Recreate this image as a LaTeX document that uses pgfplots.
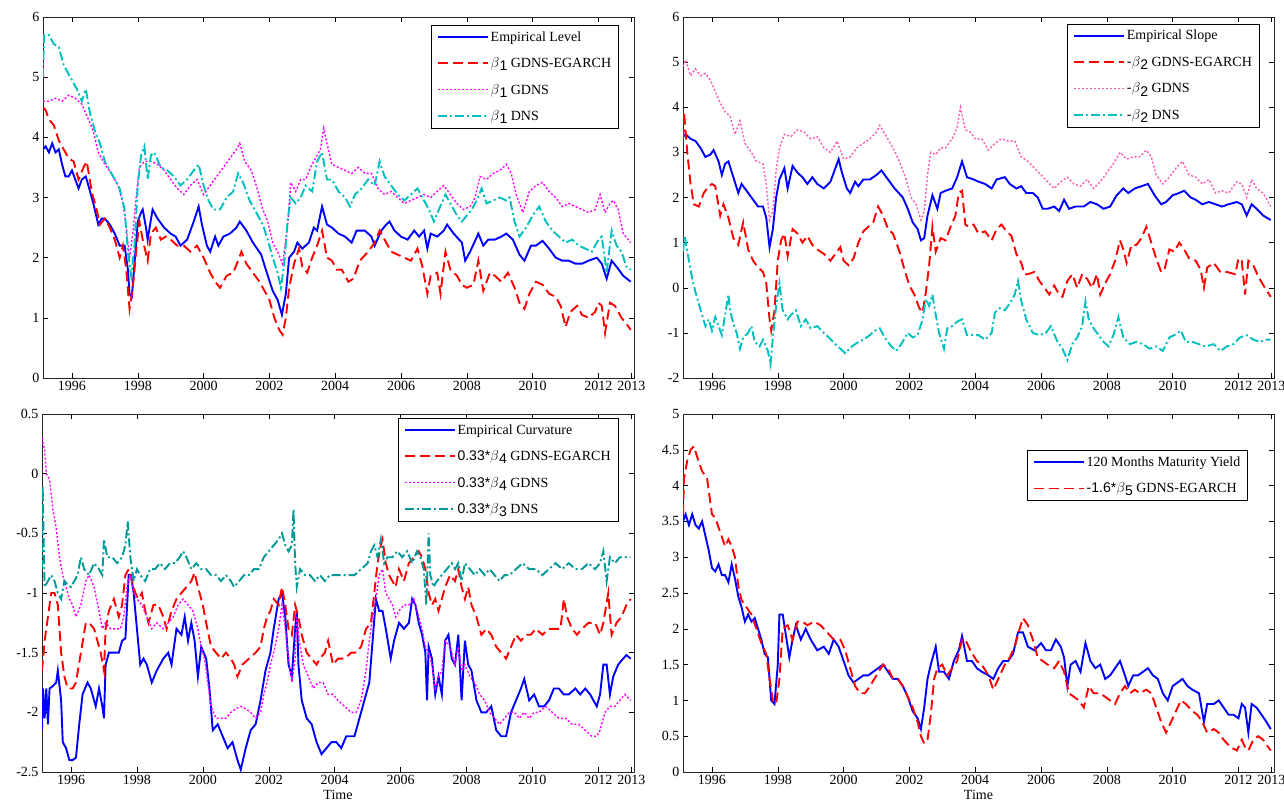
\documentclass[border=0pt]{standalone}
\usepackage{fontspec}
\setmainfont{Liberation Serif}
\newfontfamily\sansf{Liberation Sans}
\usepackage{pgfplots}
\pgfplotsset{compat=1.18}
\definecolor{mblue}{rgb}{0,0,1}
\definecolor{mred}{rgb}{1,0,0}
\definecolor{mmag}{rgb}{1,0,1}
\definecolor{mpink}{rgb}{1,0.35,0.7}
\definecolor{mcyan}{rgb}{0,0.75,0.75}
\definecolor{mteal}{rgb}{0,0.6,0.6}
\newcommand{\bsub}[1]{$\beta$\raisebox{-0.5ex}{\sansf #1}}
\pgfplotsset{
  myaxis/.style={
    scale only axis,
    xmin=1995.12, xmax=2013.08,
    xtick={1996,1998,2000,2002,2004,2006,2008,2010,2012,2013},
    xticklabels={1996,1998,2000,2002,2004,2006,2008,2010,2012,2013},
    axis line style={line width=0.6pt, black!85},
    major tick length=5pt,
    tick style={line width=0.5pt, black},
    tick label style={font=\fontsize{14}{14}\selectfont},
    /pgf/number format/assume math mode=true,
    legend cell align=left,
    legend style={draw=black, line width=0.7pt, font=\fontsize{14}{15}\selectfont,
      row sep=15pt, inner xsep=6pt, inner ysep=6pt, anchor=north west,
      nodes={inner xsep=1.5pt, inner ysep=0pt}},
    legend image code/.code={\draw[##1] (0pt,0pt) -- (50pt,0pt);},
  },
  sblue/.style={mblue, line width=1.9pt},
  sred/.style={mred, line width=1.9pt, dash pattern=on 10pt off 5pt},
  smag/.style={mmag, line width=1.4pt, dash pattern=on 2pt off 2pt},
  spink/.style={mpink, line width=1.4pt, dash pattern=on 2pt off 2pt},
  scyan/.style={mcyan, line width=1.9pt, dash pattern=on 9pt off 3pt on 2pt off 3pt},
  steal/.style={mteal, line width=1.9pt, dash pattern=on 9pt off 3pt on 2pt off 3pt},
}
\begin{document}
\begin{tikzpicture}
\path[use as bounding box] (0pt,0pt) rectangle (1284pt,-805pt);

% ---------------- Panel 1 ----------------
\begin{axis}[myaxis, at={(43pt,-378pt)}, anchor=south west, width=591pt, height=361pt,
  ymin=0, ymax=6, ytick={0,1,2,3,4,5,6}, yticklabels={0,1,2,3,4,5,6},
  legend style={at={(0.6565,0.978)}}]
\addplot[sblue] coordinates {(1995.12,3.8)(1995.2,3.85)(1995.3,3.75)(1995.4,3.9)(1995.5,3.75)(1995.6,3.8)(1995.7,3.55)(1995.8,3.35)(1995.9,3.35)(1996.0,3.45)(1996.1,3.3)(1996.2,3.15)(1996.3,3.3)(1996.42,3.35)(1996.55,3.1)(1996.65,2.9)(1996.8,2.55)(1996.9,2.65)(1997.0,2.65)(1997.15,2.55)(1997.3,2.4)(1997.45,2.2)(1997.6,2.2)(1997.7,1.8)(1997.75,1.4)(1997.82,1.35)(1997.9,1.9)(1998.0,2.6)(1998.1,2.75)(1998.15,2.8)(1998.25,2.5)(1998.3,2.3)(1998.45,2.8)(1998.6,2.65)(1998.8,2.5)(1999.0,2.4)(1999.15,2.35)(1999.3,2.2)(1999.5,2.3)(1999.7,2.6)(1999.85,2.85)(1999.95,2.55)(2000.1,2.2)(2000.2,2.1)(2000.35,2.35)(2000.45,2.2)(2000.6,2.35)(2000.8,2.4)(2001.0,2.5)(2001.1,2.6)(2001.3,2.45)(2001.5,2.25)(2001.75,2.05)(2001.95,1.7)(2002.1,1.45)(2002.25,1.3)(2002.38,1.05)(2002.5,1.4)(2002.6,2.0)(2002.75,2.1)(2002.85,2.25)(2003.0,2.15)(2003.2,2.25)(2003.35,2.5)(2003.45,2.45)(2003.6,2.85)(2003.75,2.55)(2003.9,2.5)(2004.1,2.4)(2004.3,2.35)(2004.5,2.25)(2004.65,2.45)(2004.9,2.45)(2005.1,2.35)(2005.2,2.2)(2005.4,2.45)(2005.55,2.55)(2005.65,2.6)(2005.8,2.45)(2006.0,2.35)(2006.2,2.3)(2006.4,2.45)(2006.55,2.35)(2006.7,2.45)(2006.8,2.15)(2006.9,2.4)(2007.1,2.35)(2007.3,2.45)(2007.4,2.55)(2007.6,2.4)(2007.85,2.25)(2007.95,1.95)(2008.1,2.1)(2008.35,2.4)(2008.5,2.2)(2008.65,2.3)(2008.85,2.3)(2009.05,2.35)(2009.2,2.4)(2009.4,2.3)(2009.6,2.05)(2009.75,1.95)(2009.95,2.2)(2010.1,2.2)(2010.3,2.28)(2010.5,2.15)(2010.7,2.0)(2010.9,1.95)(2011.1,1.95)(2011.3,1.9)(2011.5,1.9)(2011.7,1.95)(2011.95,2.0)(2012.1,1.9)(2012.25,1.65)(2012.4,1.95)(2012.55,1.85)(2012.75,1.7)(2012.98,1.6)};
\addlegendentry{Empirical Level}
\addplot[sred] coordinates {(1995.12,4.5)(1995.2,4.45)(1995.3,4.3)(1995.45,4.2)(1995.6,3.95)(1995.75,3.8)(1995.9,3.65)(1996.05,3.6)(1996.2,3.3)(1996.35,3.5)(1996.45,3.6)(1996.6,3.1)(1996.75,2.8)(1996.85,2.55)(1997.0,2.65)(1997.15,2.5)(1997.3,2.3)(1997.45,2.0)(1997.55,2.2)(1997.65,1.8)(1997.75,1.15)(1997.85,1.5)(1997.95,2.1)(1998.05,2.6)(1998.15,2.3)(1998.3,1.95)(1998.4,2.4)(1998.55,2.5)(1998.7,2.3)(1998.85,2.35)(1999.0,2.3)(1999.2,2.2)(1999.4,2.2)(1999.6,2.1)(1999.8,2.2)(2000.0,2.0)(2000.2,1.75)(2000.35,1.6)(2000.5,1.5)(2000.7,1.7)(2000.9,1.75)(2001.05,1.95)(2001.15,2.1)(2001.3,1.9)(2001.5,1.75)(2001.7,1.6)(2001.85,1.45)(2002.0,1.3)(2002.15,1.0)(2002.3,0.8)(2002.4,0.72)(2002.5,1.0)(2002.6,1.5)(2002.75,1.9)(2002.9,2.15)(2003.0,1.85)(2003.15,1.75)(2003.3,2.0)(2003.45,2.2)(2003.6,2.45)(2003.75,2.0)(2003.9,1.95)(2004.05,1.8)(2004.2,1.8)(2004.4,1.6)(2004.55,1.65)(2004.75,1.95)(2005.0,2.1)(2005.2,2.25)(2005.35,2.45)(2005.5,2.3)(2005.7,2.1)(2005.9,2.05)(2006.1,2.0)(2006.3,1.95)(2006.5,2.15)(2006.65,1.85)(2006.8,1.4)(2006.9,1.7)(2007.1,1.75)(2007.2,1.4)(2007.35,2.1)(2007.5,1.8)(2007.7,1.7)(2007.85,1.55)(2008.0,1.5)(2008.2,1.55)(2008.35,1.95)(2008.5,1.45)(2008.7,1.75)(2008.85,1.7)(2009.05,1.6)(2009.25,1.75)(2009.45,1.5)(2009.6,1.25)(2009.75,1.15)(2009.9,1.4)(2010.1,1.6)(2010.3,1.55)(2010.5,1.4)(2010.7,1.35)(2010.85,1.2)(2011.0,0.85)(2011.15,1.1)(2011.35,1.2)(2011.5,1.05)(2011.7,1.0)(2011.9,1.1)(2012.0,1.25)(2012.1,1.2)(2012.2,0.75)(2012.35,1.25)(2012.5,1.2)(2012.7,1.0)(2012.85,0.9)(2012.98,0.8)};
\addlegendentry{\bsub{1} GDNS-EGARCH}
\addplot[smag] coordinates {(1995.12,4.6)(1995.3,4.6)(1995.5,4.65)(1995.7,4.6)(1995.9,4.7)(1996.1,4.65)(1996.3,4.55)(1996.5,4.3)(1996.65,4.1)(1996.8,3.75)(1997.0,3.55)(1997.2,3.4)(1997.4,3.2)(1997.55,2.9)(1997.65,2.5)(1997.75,2.0)(1997.85,2.4)(1997.95,3.0)(1998.05,3.5)(1998.2,3.6)(1998.4,3.6)(1998.6,3.55)(1998.8,3.45)(1999.0,3.3)(1999.2,3.15)(1999.4,3.05)(1999.6,3.2)(1999.8,3.3)(2000.0,3.05)(2000.2,3.2)(2000.4,3.35)(2000.6,3.5)(2000.8,3.65)(2001.0,3.8)(2001.1,3.9)(2001.25,3.6)(2001.45,3.45)(2001.6,3.2)(2001.8,2.8)(2001.95,2.6)(2002.1,2.25)(2002.25,2.1)(2002.4,1.9)(2002.55,2.5)(2002.65,3.25)(2002.8,3.1)(2002.95,3.3)(2003.1,3.3)(2003.25,3.5)(2003.4,3.65)(2003.55,3.8)(2003.65,4.15)(2003.75,3.9)(2003.9,3.55)(2004.1,3.5)(2004.3,3.45)(2004.5,3.4)(2004.7,3.5)(2004.9,3.4)(2005.1,3.4)(2005.3,3.15)(2005.5,3.05)(2005.7,3.1)(2005.9,3.0)(2006.1,2.9)(2006.3,2.95)(2006.5,3.0)(2006.7,3.05)(2006.9,3.0)(2007.1,3.1)(2007.3,3.2)(2007.5,3.05)(2007.7,2.9)(2007.9,2.8)(2008.1,2.85)(2008.25,3.0)(2008.4,3.35)(2008.6,3.3)(2008.8,3.4)(2009.0,3.45)(2009.2,3.55)(2009.35,3.4)(2009.5,3.05)(2009.7,2.75)(2009.9,3.1)(2010.1,3.2)(2010.3,3.25)(2010.5,3.1)(2010.7,3.0)(2010.9,2.85)(2011.1,2.9)(2011.3,2.85)(2011.5,2.8)(2011.7,2.75)(2011.9,2.8)(2012.05,3.05)(2012.2,2.75)(2012.35,2.9)(2012.45,2.95)(2012.6,2.8)(2012.75,2.4)(2012.98,2.25)};
\addlegendentry{\bsub{1} GDNS}
\addplot[scyan] coordinates {(1995.12,5.0)(1995.15,5.7)(1995.3,5.7)(1995.45,5.55)(1995.6,5.5)(1995.75,5.2)(1995.9,5.05)(1996.0,4.95)(1996.15,4.8)(1996.3,4.6)(1996.42,4.8)(1996.55,4.4)(1996.7,4.1)(1996.85,3.9)(1997.0,3.6)(1997.15,3.45)(1997.3,3.3)(1997.45,3.15)(1997.6,2.8)(1997.7,2.1)(1997.8,1.7)(1997.9,2.2)(1998.0,3.2)(1998.1,3.7)(1998.2,3.85)(1998.3,3.3)(1998.4,3.7)(1998.5,3.75)(1998.7,3.5)(1998.9,3.45)(1999.1,3.35)(1999.3,3.2)(1999.5,3.3)(1999.7,3.45)(1999.85,3.55)(2000.0,3.2)(2000.15,2.95)(2000.3,2.8)(2000.5,2.8)(2000.7,3.0)(2000.9,3.1)(2001.05,3.4)(2001.2,3.25)(2001.4,2.95)(2001.6,2.75)(2001.8,2.55)(2001.95,2.3)(2002.1,2.0)(2002.25,1.75)(2002.35,1.5)(2002.45,1.9)(2002.55,2.6)(2002.65,3.0)(2002.8,2.9)(2002.95,3.0)(2003.1,3.2)(2003.3,3.1)(2003.45,3.6)(2003.6,3.75)(2003.75,3.3)(2003.9,3.3)(2004.1,3.1)(2004.3,3.0)(2004.45,2.85)(2004.6,3.05)(2004.8,3.15)(2005.0,3.3)(2005.2,3.2)(2005.35,3.6)(2005.5,3.35)(2005.7,3.2)(2005.9,3.05)(2006.1,2.95)(2006.3,3.05)(2006.5,3.15)(2006.7,2.95)(2006.85,2.8)(2007.0,2.6)(2007.15,2.8)(2007.35,3.05)(2007.5,2.9)(2007.7,2.7)(2007.85,2.6)(2008.0,2.7)(2008.15,2.8)(2008.3,2.95)(2008.45,3.15)(2008.6,2.9)(2008.8,2.95)(2009.0,3.0)(2009.2,2.95)(2009.3,3.0)(2009.45,2.6)(2009.6,2.35)(2009.8,2.5)(2010.0,2.7)(2010.2,2.85)(2010.4,2.6)(2010.6,2.45)(2010.8,2.35)(2011.0,2.25)(2011.2,2.3)(2011.4,2.2)(2011.6,2.15)(2011.8,2.1)(2012.0,2.3)(2012.1,2.35)(2012.25,1.75)(2012.4,2.45)(2012.55,2.2)(2012.7,2.1)(2012.85,1.85)(2012.98,1.8)};
\addlegendentry{\bsub{1} DNS}
\end{axis}

% ---------------- Panel 2 ----------------
\begin{axis}[myaxis, at={(683pt,-378pt)}, anchor=south west, width=591pt, height=361pt,
  ymin=-2, ymax=6, ytick={-2,-1,0,1,2,3,4,5,6}, yticklabels={-2,-1,0,1,2,3,4,5,6},
  legend style={at={(0.650,0.981)}}]
\addplot[sblue] coordinates {(1995.12,3.35)(1995.2,3.4)(1995.35,3.3)(1995.5,3.25)(1995.65,3.1)(1995.8,2.9)(1995.95,2.95)(1996.05,3.05)(1996.2,2.8)(1996.3,2.5)(1996.4,2.75)(1996.5,2.8)(1996.65,2.45)(1996.8,2.1)(1996.9,2.3)(1997.05,2.15)(1997.25,1.95)(1997.4,1.8)(1997.55,1.8)(1997.65,1.55)(1997.75,0.9)(1997.85,1.3)(1997.95,2.0)(1998.05,2.4)(1998.2,2.65)(1998.3,2.2)(1998.45,2.7)(1998.6,2.55)(1998.75,2.45)(1998.9,2.3)(1999.05,2.45)(1999.2,2.3)(1999.4,2.2)(1999.6,2.35)(1999.75,2.65)(1999.85,2.85)(1999.95,2.55)(2000.1,2.2)(2000.2,2.1)(2000.35,2.35)(2000.45,2.25)(2000.6,2.4)(2000.8,2.4)(2001.0,2.5)(2001.15,2.6)(2001.35,2.4)(2001.55,2.2)(2001.8,2.0)(2001.95,1.75)(2002.1,1.45)(2002.25,1.3)(2002.35,1.05)(2002.45,1.1)(2002.55,1.6)(2002.7,2.05)(2002.85,1.75)(2002.95,2.1)(2003.1,2.15)(2003.3,2.2)(2003.45,2.45)(2003.6,2.8)(2003.75,2.45)(2003.95,2.4)(2004.1,2.35)(2004.3,2.3)(2004.5,2.2)(2004.65,2.4)(2004.9,2.45)(2005.05,2.3)(2005.25,2.2)(2005.4,2.25)(2005.55,2.1)(2005.75,2.1)(2005.9,2.0)(2006.05,1.75)(2006.2,1.75)(2006.4,1.8)(2006.55,1.7)(2006.7,1.95)(2006.85,1.75)(2007.05,1.8)(2007.3,1.8)(2007.5,1.9)(2007.7,1.85)(2007.9,1.75)(2008.1,1.8)(2008.3,2.05)(2008.5,2.2)(2008.65,2.1)(2008.85,2.2)(2009.05,2.25)(2009.25,2.3)(2009.45,2.05)(2009.65,1.85)(2009.8,1.9)(2010.0,2.05)(2010.2,2.1)(2010.35,2.15)(2010.55,2.0)(2010.7,1.95)(2010.9,1.85)(2011.1,1.9)(2011.3,1.85)(2011.5,1.8)(2011.7,1.85)(2011.95,1.9)(2012.1,1.85)(2012.25,1.6)(2012.4,1.85)(2012.55,1.75)(2012.75,1.6)(2012.98,1.5)};
\addlegendentry{Empirical Slope}
\addplot[sred] coordinates {(1995.12,3.3)(1995.15,3.9)(1995.25,3.0)(1995.35,2.3)(1995.45,1.85)(1995.6,1.8)(1995.75,2.1)(1995.9,2.25)(1996.0,2.3)(1996.1,2.25)(1996.25,1.6)(1996.35,1.85)(1996.5,1.55)(1996.65,1.1)(1996.8,0.95)(1996.95,1.45)(1997.1,0.85)(1997.25,0.6)(1997.4,0.45)(1997.55,0.35)(1997.65,0.1)(1997.75,-0.7)(1997.8,-0.95)(1997.9,-0.5)(1998.0,0.6)(1998.1,1.05)(1998.2,1.2)(1998.3,0.7)(1998.45,1.3)(1998.6,1.2)(1998.75,1.0)(1998.9,1.15)(1999.05,0.95)(1999.2,0.85)(1999.4,0.75)(1999.6,0.6)(1999.8,0.8)(1999.9,0.9)(2000.0,0.6)(2000.15,0.5)(2000.3,0.65)(2000.45,1.0)(2000.6,1.25)(2000.75,1.35)(2000.9,1.45)(2001.05,1.8)(2001.2,1.6)(2001.35,1.3)(2001.5,1.2)(2001.7,0.8)(2001.85,0.4)(2002.0,0.05)(2002.15,-0.15)(2002.3,-0.45)(2002.4,-0.55)(2002.5,-0.1)(2002.6,0.5)(2002.7,1.35)(2002.8,0.8)(2002.95,1.1)(2003.1,1.05)(2003.25,1.35)(2003.4,1.6)(2003.5,2.1)(2003.6,2.15)(2003.7,1.4)(2003.8,1.35)(2003.95,1.4)(2004.1,1.2)(2004.3,1.25)(2004.5,1.05)(2004.65,1.3)(2004.8,1.4)(2004.95,1.25)(2005.1,1.15)(2005.25,0.75)(2005.4,0.55)(2005.5,0.3)(2005.6,0.3)(2005.8,0.35)(2005.95,0.15)(2006.1,0.0)(2006.25,-0.15)(2006.4,0.05)(2006.55,-0.15)(2006.65,-0.2)(2006.8,0.15)(2006.95,0.3)(2007.1,0.0)(2007.25,0.3)(2007.4,0.2)(2007.55,0.0)(2007.7,0.3)(2007.8,-0.15)(2007.95,0.1)(2008.1,0.3)(2008.25,0.6)(2008.4,1.05)(2008.5,0.85)(2008.6,0.55)(2008.75,0.95)(2008.9,0.95)(2009.05,1.1)(2009.2,1.35)(2009.35,1.0)(2009.5,0.65)(2009.65,0.35)(2009.75,0.4)(2009.9,0.85)(2010.05,0.8)(2010.2,1.0)(2010.35,0.85)(2010.5,0.65)(2010.7,0.6)(2010.85,0.4)(2010.95,0.0)(2011.05,0.45)(2011.25,0.55)(2011.45,0.35)(2011.65,0.35)(2011.9,0.3)(2012.0,0.65)(2012.1,0.6)(2012.2,-0.15)(2012.3,0.6)(2012.45,0.5)(2012.6,0.25)(2012.8,0.0)(2012.98,-0.2)};
\addlegendentry{{\sansf -}\bsub{2} GDNS-EGARCH}
\addplot[spink] coordinates {(1995.12,4.9)(1995.2,5.05)(1995.35,4.7)(1995.5,4.85)(1995.65,4.7)(1995.8,4.75)(1995.95,4.6)(1996.1,4.35)(1996.25,4.1)(1996.4,3.9)(1996.55,3.8)(1996.7,3.4)(1996.85,3.7)(1997.0,3.2)(1997.2,3.0)(1997.35,2.8)(1997.55,2.75)(1997.65,2.3)(1997.75,1.5)(1997.85,1.7)(1997.95,2.6)(1998.05,3.1)(1998.2,3.4)(1998.4,3.35)(1998.6,3.5)(1998.8,3.45)(1999.0,3.3)(1999.2,3.35)(1999.4,3.1)(1999.6,3.0)(1999.8,3.25)(2000.0,2.85)(2000.2,2.9)(2000.4,3.1)(2000.6,3.2)(2000.8,3.3)(2001.0,3.45)(2001.1,3.6)(2001.3,3.35)(2001.5,3.1)(2001.7,2.8)(2001.9,2.4)(2002.05,2.0)(2002.2,1.85)(2002.35,1.5)(2002.45,1.7)(2002.55,2.5)(2002.65,3.0)(2002.8,2.95)(2002.95,3.1)(2003.1,3.1)(2003.3,3.3)(2003.45,3.55)(2003.55,4.0)(2003.7,3.5)(2003.85,3.45)(2004.0,3.3)(2004.2,3.3)(2004.4,3.05)(2004.6,3.2)(2004.8,3.3)(2005.0,3.25)(2005.2,3.25)(2005.4,2.9)(2005.6,2.8)(2005.8,2.65)(2006.0,2.5)(2006.2,2.35)(2006.4,2.2)(2006.6,2.35)(2006.8,2.45)(2007.0,2.3)(2007.2,2.25)(2007.4,2.4)(2007.6,2.2)(2007.8,2.35)(2008.0,2.55)(2008.2,2.75)(2008.4,3.0)(2008.6,2.85)(2008.8,2.9)(2009.0,2.9)(2009.2,3.05)(2009.35,2.9)(2009.5,2.5)(2009.7,2.3)(2009.9,2.45)(2010.1,2.65)(2010.3,2.8)(2010.5,2.5)(2010.7,2.45)(2010.9,2.3)(2011.1,2.4)(2011.3,2.1)(2011.5,2.15)(2011.7,2.1)(2011.95,2.35)(2012.1,2.3)(2012.25,2.0)(2012.4,2.4)(2012.55,2.2)(2012.75,2.1)(2012.98,1.8)};
\addlegendentry{{\sansf -}\bsub{2} GDNS}
\addplot[scyan] coordinates {(1995.12,0.8)(1995.17,1.15)(1995.3,0.6)(1995.4,0.2)(1995.5,-0.1)(1995.6,-0.35)(1995.7,-0.6)(1995.8,-0.85)(1995.9,-0.7)(1996.0,-0.95)(1996.1,-0.65)(1996.2,-0.85)(1996.3,-1.05)(1996.4,-0.6)(1996.5,-0.15)(1996.55,-0.5)(1996.65,-0.8)(1996.75,-1.0)(1996.85,-1.35)(1996.95,-1.1)(1997.1,-1.0)(1997.2,-0.85)(1997.3,-1.2)(1997.45,-1.3)(1997.55,-1.15)(1997.7,-1.4)(1997.78,-1.7)(1997.85,-1.1)(1997.95,-0.4)(1998.05,0.1)(1998.15,-0.5)(1998.3,-0.7)(1998.4,-0.6)(1998.55,-0.5)(1998.7,-0.85)(1998.85,-0.7)(1999.0,-0.9)(1999.2,-0.85)(1999.4,-1.0)(1999.55,-1.1)(1999.75,-1.25)(1999.9,-1.35)(2000.05,-1.45)(2000.25,-1.3)(2000.45,-1.2)(2000.6,-1.15)(2000.8,-1.05)(2000.95,-0.95)(2001.1,-0.9)(2001.25,-1.1)(2001.45,-1.3)(2001.6,-1.4)(2001.75,-1.25)(2001.95,-1.0)(2002.1,-1.1)(2002.25,-1.05)(2002.4,-0.7)(2002.5,-0.25)(2002.6,-0.4)(2002.7,-0.15)(2002.8,-0.6)(2002.9,-1.0)(2003.05,-1.35)(2003.15,-0.9)(2003.3,-0.85)(2003.45,-0.75)(2003.6,-0.7)(2003.75,-1.05)(2003.9,-1.05)(2004.1,-1.05)(2004.3,-1.15)(2004.5,-1.0)(2004.6,-0.55)(2004.75,-0.45)(2004.9,-0.5)(2005.05,-0.35)(2005.2,-0.15)(2005.3,0.15)(2005.4,-0.3)(2005.55,-0.7)(2005.75,-1.0)(2005.95,-1.05)(2006.15,-1.0)(2006.3,-0.85)(2006.5,-1.2)(2006.65,-1.35)(2006.8,-1.6)(2006.95,-1.25)(2007.1,-1.1)(2007.25,-0.85)(2007.35,-0.3)(2007.45,-0.7)(2007.6,-0.9)(2007.75,-1.05)(2007.9,-1.2)(2008.05,-1.3)(2008.2,-1.05)(2008.35,-0.65)(2008.5,-1.1)(2008.7,-1.25)(2008.9,-1.2)(2009.1,-1.25)(2009.3,-1.35)(2009.5,-1.3)(2009.7,-1.4)(2009.9,-1.1)(2010.05,-1.05)(2010.25,-0.95)(2010.4,-1.2)(2010.6,-1.2)(2010.8,-1.25)(2011.0,-1.3)(2011.25,-1.25)(2011.45,-1.4)(2011.65,-1.3)(2011.85,-1.25)(2012.05,-1.1)(2012.25,-1.05)(2012.45,-1.15)(2012.65,-1.2)(2012.85,-1.15)(2012.98,-1.15)};
\addlegendentry{{\sansf -}\bsub{2} DNS}
\end{axis}

% ---------------- Panel 3 ----------------
\begin{axis}[myaxis, at={(42pt,-772pt)}, anchor=south west, width=592pt, height=358pt,
  ymin=-2.5, ymax=0.5, ytick={-2.5,-2,-1.5,-1,-0.5,0,0.5}, yticklabels={-2.5,-2,-1.5,-1,-0.5,0,0.5},
  xlabel={Time}, xlabel style={font=\fontsize{14}{14}\selectfont, yshift=2pt},
  legend style={at={(0.601,0.989)}}]
\addplot[sblue] coordinates {(1995.12,-2.15)(1995.15,-1.8)(1995.2,-2.05)(1995.25,-1.8)(1995.3,-2.1)(1995.35,-1.8)(1995.45,-1.78)(1995.55,-1.75)(1995.6,-1.65)(1995.7,-1.9)(1995.75,-2.25)(1995.85,-2.3)(1995.95,-2.4)(1996.05,-2.4)(1996.15,-2.38)(1996.25,-2.1)(1996.35,-1.85)(1996.5,-1.75)(1996.6,-1.8)(1996.75,-1.95)(1996.85,-1.8)(1996.95,-1.95)(1997.0,-2.05)(1997.05,-1.6)(1997.15,-1.5)(1997.3,-1.5)(1997.45,-1.5)(1997.55,-1.4)(1997.65,-1.38)(1997.75,-0.85)(1997.82,-0.85)(1997.9,-1.0)(1998.0,-1.3)(1998.1,-1.6)(1998.2,-1.55)(1998.3,-1.6)(1998.45,-1.75)(1998.6,-1.65)(1998.8,-1.55)(1998.95,-1.5)(1999.05,-1.6)(1999.2,-1.3)(1999.35,-1.35)(1999.45,-1.2)(1999.55,-1.4)(1999.65,-1.25)(1999.75,-1.4)(1999.85,-1.7)(1999.95,-1.45)(2000.1,-1.55)(2000.2,-1.8)(2000.3,-2.15)(2000.45,-2.1)(2000.6,-2.2)(2000.75,-2.3)(2000.9,-2.25)(2001.05,-2.4)(2001.15,-2.48)(2001.3,-2.3)(2001.45,-2.15)(2001.6,-2.1)(2001.75,-1.9)(2001.9,-1.65)(2002.05,-1.5)(2002.15,-1.3)(2002.3,-1.05)(2002.4,-1.0)(2002.5,-1.2)(2002.6,-1.6)(2002.7,-1.7)(2002.8,-1.3)(2002.85,-1.15)(2002.9,-1.6)(2003.0,-1.9)(2003.15,-2.05)(2003.3,-2.1)(2003.45,-2.25)(2003.6,-2.35)(2003.75,-2.3)(2003.9,-2.25)(2004.05,-2.25)(2004.2,-2.3)(2004.35,-2.2)(2004.5,-2.2)(2004.6,-2.2)(2004.75,-2.05)(2004.9,-1.9)(2005.05,-1.75)(2005.15,-1.4)(2005.25,-1.05)(2005.35,-1.15)(2005.45,-1.15)(2005.55,-1.3)(2005.7,-1.55)(2005.8,-1.4)(2005.95,-1.25)(2006.1,-1.3)(2006.25,-1.25)(2006.35,-1.05)(2006.45,-1.1)(2006.55,-1.25)(2006.65,-1.35)(2006.75,-1.5)(2006.8,-1.9)(2006.85,-1.45)(2006.95,-1.55)(2007.05,-1.85)(2007.15,-1.7)(2007.25,-1.85)(2007.35,-1.4)(2007.45,-1.35)(2007.55,-1.55)(2007.65,-1.6)(2007.75,-1.35)(2007.85,-1.9)(2007.95,-1.4)(2008.05,-1.6)(2008.15,-1.65)(2008.3,-1.9)(2008.45,-2.0)(2008.6,-2.0)(2008.75,-1.95)(2008.9,-2.15)(2009.05,-2.2)(2009.2,-2.2)(2009.35,-2.0)(2009.5,-1.9)(2009.65,-1.8)(2009.75,-1.72)(2009.9,-1.9)(2010.05,-1.85)(2010.2,-1.95)(2010.35,-1.95)(2010.5,-1.9)(2010.65,-1.8)(2010.8,-1.8)(2010.95,-1.85)(2011.1,-1.85)(2011.3,-1.8)(2011.45,-1.85)(2011.6,-1.8)(2011.75,-1.85)(2011.95,-1.95)(2012.05,-1.85)(2012.15,-1.6)(2012.25,-1.6)(2012.35,-1.85)(2012.45,-1.7)(2012.6,-1.6)(2012.75,-1.55)(2012.85,-1.52)(2012.98,-1.55)};
\addlegendentry{Empirical Curvature}
\addplot[sred] coordinates {(1995.12,-1.65)(1995.2,-1.4)(1995.3,-1.2)(1995.4,-1.0)(1995.5,-1.0)(1995.6,-1.1)(1995.7,-1.5)(1995.8,-1.7)(1995.9,-1.8)(1996.05,-1.8)(1996.15,-1.75)(1996.3,-1.5)(1996.45,-1.25)(1996.55,-1.25)(1996.7,-1.3)(1996.8,-1.4)(1996.9,-1.5)(1997.0,-1.65)(1997.05,-1.3)(1997.15,-1.15)(1997.3,-1.05)(1997.45,-1.2)(1997.55,-1.1)(1997.65,-0.85)(1997.75,-0.8)(1997.85,-0.9)(1997.95,-1.0)(1998.05,-1.05)(1998.15,-1.0)(1998.25,-1.15)(1998.35,-1.25)(1998.5,-1.1)(1998.65,-1.1)(1998.8,-1.2)(1998.9,-1.3)(1999.05,-1.15)(1999.2,-1.05)(1999.35,-1.0)(1999.5,-0.95)(1999.65,-0.9)(1999.75,-0.83)(1999.85,-0.95)(2000.0,-1.1)(2000.1,-1.25)(2000.25,-1.45)(2000.4,-1.5)(2000.55,-1.55)(2000.7,-1.5)(2000.85,-1.55)(2000.95,-1.6)(2001.05,-1.7)(2001.2,-1.6)(2001.4,-1.55)(2001.6,-1.5)(2001.75,-1.45)(2001.85,-1.3)(2001.95,-1.2)(2002.05,-1.15)(2002.15,-1.05)(2002.3,-1.1)(2002.4,-0.95)(2002.5,-1.1)(2002.6,-1.3)(2002.7,-1.35)(2002.8,-1.1)(2002.9,-1.2)(2003.0,-1.35)(2003.15,-1.5)(2003.3,-1.55)(2003.45,-1.6)(2003.55,-1.55)(2003.7,-1.5)(2003.8,-1.4)(2003.95,-1.6)(2004.1,-1.55)(2004.3,-1.55)(2004.5,-1.5)(2004.65,-1.5)(2004.8,-1.45)(2004.95,-1.3)(2005.1,-1.25)(2005.2,-1.0)(2005.3,-0.75)(2005.4,-0.6)(2005.45,-0.55)(2005.55,-0.75)(2005.65,-0.85)(2005.75,-0.9)(2005.85,-0.95)(2005.95,-0.8)(2006.1,-0.9)(2006.25,-0.75)(2006.4,-0.7)(2006.55,-0.65)(2006.65,-0.7)(2006.75,-0.8)(2006.85,-1.0)(2006.95,-1.1)(2007.05,-1.05)(2007.15,-1.15)(2007.25,-1.05)(2007.35,-0.95)(2007.5,-0.85)(2007.65,-0.9)(2007.75,-0.8)(2007.85,-0.95)(2007.95,-1.05)(2008.05,-0.95)(2008.15,-1.1)(2008.3,-1.2)(2008.45,-1.35)(2008.6,-1.3)(2008.75,-1.35)(2008.9,-1.45)(2009.05,-1.5)(2009.2,-1.55)(2009.35,-1.45)(2009.5,-1.35)(2009.65,-1.4)(2009.8,-1.35)(2009.95,-1.35)(2010.1,-1.3)(2010.3,-1.35)(2010.5,-1.3)(2010.7,-1.3)(2010.85,-1.3)(2010.95,-1.05)(2011.05,-1.2)(2011.2,-1.3)(2011.35,-1.35)(2011.5,-1.3)(2011.7,-1.25)(2011.9,-1.25)(2012.05,-1.35)(2012.15,-1.25)(2012.3,-1.0)(2012.4,-1.35)(2012.55,-1.25)(2012.7,-1.2)(2012.85,-1.1)(2012.98,-1.05)};
\addlegendentry{{\sansf 0.33*}\bsub{4} GDNS-EGARCH}
\addplot[smag] coordinates {(1995.12,0.3)(1995.2,0.2)(1995.25,0.0)(1995.35,-0.05)(1995.45,-0.3)(1995.55,-0.45)(1995.65,-0.7)(1995.75,-0.85)(1995.85,-0.95)(1995.95,-1.05)(1996.05,-1.1)(1996.15,-1.2)(1996.3,-1.1)(1996.45,-0.9)(1996.55,-0.85)(1996.7,-0.95)(1996.85,-1.15)(1996.95,-1.3)(1997.05,-1.25)(1997.2,-1.3)(1997.35,-1.3)(1997.5,-1.3)(1997.6,-1.2)(1997.7,-0.95)(1997.8,-0.85)(1997.9,-1.0)(1998.0,-1.05)(1998.15,-1.1)(1998.3,-1.2)(1998.45,-1.3)(1998.6,-1.25)(1998.8,-1.3)(1998.95,-1.25)(1999.1,-1.2)(1999.25,-1.1)(1999.4,-1.05)(1999.55,-1.1)(1999.7,-1.15)(1999.85,-1.3)(1999.95,-1.45)(2000.05,-1.55)(2000.15,-1.75)(2000.25,-1.95)(2000.4,-2.05)(2000.55,-2.05)(2000.7,-2.05)(2000.85,-2.0)(2001.0,-1.97)(2001.15,-1.95)(2001.3,-1.97)(2001.45,-2.0)(2001.6,-2.05)(2001.75,-2.0)(2001.85,-1.85)(2001.95,-1.75)(2002.05,-1.6)(2002.15,-1.5)(2002.3,-1.3)(2002.4,-1.1)(2002.5,-1.3)(2002.6,-1.55)(2002.7,-1.75)(2002.8,-1.55)(2002.85,-1.2)(2002.95,-1.45)(2003.05,-1.6)(2003.2,-1.7)(2003.35,-1.8)(2003.5,-1.75)(2003.65,-1.75)(2003.8,-1.85)(2003.95,-1.85)(2004.1,-1.9)(2004.3,-1.95)(2004.5,-2.0)(2004.65,-2.0)(2004.8,-1.9)(2004.95,-1.65)(2005.05,-1.4)(2005.15,-1.2)(2005.25,-1.05)(2005.35,-0.85)(2005.45,-0.8)(2005.55,-1.0)(2005.65,-1.05)(2005.75,-1.1)(2005.85,-1.2)(2005.95,-1.15)(2006.1,-1.1)(2006.25,-1.1)(2006.4,-1.05)(2006.55,-1.2)(2006.65,-1.3)(2006.75,-1.45)(2006.85,-1.5)(2006.95,-1.6)(2007.05,-1.8)(2007.15,-1.7)(2007.25,-1.65)(2007.35,-1.4)(2007.5,-1.45)(2007.65,-1.6)(2007.75,-1.45)(2007.85,-1.65)(2007.95,-1.6)(2008.1,-1.7)(2008.25,-1.75)(2008.4,-1.85)(2008.55,-1.9)(2008.7,-2.0)(2008.85,-2.05)(2009.0,-2.1)(2009.15,-2.05)(2009.3,-2.0)(2009.45,-2.0)(2009.6,-2.05)(2009.75,-2.0)(2009.9,-2.05)(2010.05,-2.0)(2010.2,-2.0)(2010.4,-1.95)(2010.6,-2.0)(2010.8,-2.05)(2011.0,-2.05)(2011.2,-2.1)(2011.4,-2.1)(2011.6,-2.15)(2011.8,-2.2)(2011.95,-2.2)(2012.05,-2.15)(2012.2,-2.0)(2012.35,-1.95)(2012.5,-1.95)(2012.65,-1.9)(2012.8,-1.85)(2012.98,-1.9)};
\addlegendentry{{\sansf 0.33*}\bsub{4} GDNS}
\addplot[steal] coordinates {(1995.12,-0.8)(1995.14,-0.1)(1995.17,-0.55)(1995.2,-0.95)(1995.3,-0.9)(1995.4,-0.85)(1995.5,-0.9)(1995.6,-1.0)(1995.7,-1.05)(1995.8,-0.9)(1995.9,-0.93)(1996.0,-0.95)(1996.1,-0.9)(1996.2,-0.85)(1996.3,-0.7)(1996.4,-0.8)(1996.55,-0.85)(1996.7,-0.75)(1996.85,-0.8)(1996.95,-0.85)(1997.0,-0.55)(1997.1,-0.7)(1997.25,-0.7)(1997.4,-0.75)(1997.55,-0.7)(1997.65,-0.6)(1997.72,-0.4)(1997.8,-0.7)(1997.9,-0.9)(1998.0,-0.8)(1998.1,-0.85)(1998.25,-0.9)(1998.4,-0.8)(1998.55,-0.8)(1998.7,-0.75)(1998.85,-0.8)(1999.0,-0.75)(1999.15,-0.75)(1999.3,-0.7)(1999.4,-0.65)(1999.5,-0.7)(1999.65,-0.8)(1999.8,-0.75)(1999.95,-0.8)(2000.1,-0.8)(2000.25,-0.85)(2000.4,-0.85)(2000.55,-0.9)(2000.7,-0.85)(2000.85,-0.9)(2000.95,-0.95)(2001.1,-0.9)(2001.25,-0.85)(2001.4,-0.85)(2001.55,-0.8)(2001.7,-0.8)(2001.85,-0.7)(2002.0,-0.65)(2002.15,-0.6)(2002.3,-0.55)(2002.4,-0.5)(2002.5,-0.6)(2002.6,-0.65)(2002.7,-0.6)(2002.75,-0.3)(2002.8,-0.75)(2002.85,-0.95)(2002.95,-0.8)(2003.1,-0.85)(2003.25,-0.85)(2003.4,-0.9)(2003.55,-0.85)(2003.7,-0.9)(2003.85,-0.85)(2004.0,-0.85)(2004.2,-0.85)(2004.4,-0.85)(2004.6,-0.85)(2004.8,-0.8)(2005.0,-0.75)(2005.1,-0.65)(2005.2,-0.6)(2005.3,-0.7)(2005.4,-0.55)(2005.5,-0.75)(2005.6,-0.7)(2005.75,-0.7)(2005.9,-0.65)(2006.05,-0.7)(2006.2,-0.65)(2006.35,-0.75)(2006.5,-0.65)(2006.6,-0.7)(2006.7,-0.8)(2006.78,-1.1)(2006.85,-0.5)(2006.9,-0.85)(2007.0,-0.95)(2007.1,-0.9)(2007.25,-0.85)(2007.4,-0.8)(2007.55,-0.75)(2007.65,-0.8)(2007.75,-0.75)(2007.85,-0.9)(2007.95,-0.75)(2008.1,-0.8)(2008.25,-0.85)(2008.4,-0.8)(2008.55,-0.85)(2008.7,-0.8)(2008.85,-0.85)(2009.0,-0.9)(2009.15,-0.85)(2009.3,-0.85)(2009.5,-0.8)(2009.7,-0.75)(2009.9,-0.8)(2010.1,-0.8)(2010.3,-0.85)(2010.5,-0.8)(2010.7,-0.75)(2010.9,-0.8)(2011.1,-0.75)(2011.3,-0.8)(2011.5,-0.8)(2011.7,-0.75)(2011.9,-0.8)(2012.05,-0.75)(2012.15,-0.65)(2012.25,-0.9)(2012.35,-0.7)(2012.5,-0.75)(2012.65,-0.7)(2012.8,-0.7)(2012.98,-0.7)};
\addlegendentry{{\sansf 0.33*}\bsub{3} DNS}
\end{axis}

% ---------------- Panel 4 ----------------
\begin{axis}[myaxis, at={(683pt,-772pt)}, anchor=south west, width=591pt, height=358pt,
  ymin=0, ymax=5, ytick={0,0.5,1,1.5,2,2.5,3,3.5,4,4.5,5}, yticklabels={0,0.5,1,1.5,2,2.5,3,3.5,4,4.5,5},
  xlabel={Time}, xlabel style={font=\fontsize{14}{14}\selectfont, yshift=2pt},
  legend style={at={(0.582,0.899)}}]
\addplot[sblue] coordinates {(1995.12,3.5)(1995.2,3.6)(1995.3,3.45)(1995.4,3.6)(1995.5,3.45)(1995.6,3.4)(1995.7,3.5)(1995.8,3.3)(1995.9,3.1)(1996.0,2.85)(1996.1,2.8)(1996.2,2.9)(1996.3,2.75)(1996.4,2.75)(1996.5,2.65)(1996.6,2.9)(1996.7,2.7)(1996.8,2.45)(1996.9,2.3)(1997.0,2.1)(1997.1,2.2)(1997.2,2.1)(1997.3,2.15)(1997.4,2.0)(1997.5,1.85)(1997.6,1.65)(1997.7,1.6)(1997.8,1.0)(1997.9,0.95)(1998.0,1.5)(1998.05,2.2)(1998.15,2.2)(1998.25,1.9)(1998.35,1.6)(1998.45,1.85)(1998.55,2.05)(1998.7,1.85)(1998.85,2.0)(1999.0,1.85)(1999.2,1.7)(1999.4,1.75)(1999.55,1.65)(1999.7,1.85)(1999.85,1.75)(2000.0,1.55)(2000.15,1.35)(2000.3,1.25)(2000.45,1.3)(2000.6,1.35)(2000.75,1.35)(2000.9,1.4)(2001.05,1.45)(2001.2,1.5)(2001.35,1.4)(2001.5,1.3)(2001.65,1.3)(2001.8,1.2)(2001.95,1.05)(2002.1,0.85)(2002.25,0.75)(2002.35,0.6)(2002.45,0.9)(2002.55,1.3)(2002.65,1.5)(2002.8,1.75)(2002.9,1.4)(2003.05,1.4)(2003.2,1.3)(2003.35,1.55)(2003.5,1.7)(2003.6,1.9)(2003.75,1.55)(2003.9,1.55)(2004.05,1.45)(2004.2,1.4)(2004.4,1.35)(2004.55,1.3)(2004.7,1.45)(2004.85,1.55)(2005.0,1.55)(2005.15,1.65)(2005.3,1.95)(2005.45,1.95)(2005.6,1.75)(2005.8,1.7)(2006.0,1.8)(2006.15,1.7)(2006.3,1.7)(2006.45,1.85)(2006.6,1.75)(2006.7,1.6)(2006.8,1.2)(2006.9,1.5)(2007.05,1.55)(2007.2,1.4)(2007.35,1.8)(2007.5,1.55)(2007.65,1.45)(2007.8,1.5)(2007.95,1.3)(2008.1,1.35)(2008.25,1.45)(2008.4,1.55)(2008.55,1.35)(2008.65,1.2)(2008.8,1.35)(2008.95,1.35)(2009.1,1.4)(2009.25,1.45)(2009.4,1.35)(2009.55,1.3)(2009.7,1.1)(2009.85,1.0)(2010.0,1.2)(2010.15,1.25)(2010.3,1.3)(2010.45,1.2)(2010.6,1.15)(2010.8,1.1)(2010.95,0.7)(2011.05,0.95)(2011.25,0.95)(2011.4,1.0)(2011.55,0.9)(2011.7,0.8)(2011.85,0.8)(2012.0,0.75)(2012.1,0.95)(2012.2,0.9)(2012.3,0.55)(2012.4,0.95)(2012.55,0.9)(2012.7,0.8)(2012.85,0.7)(2012.98,0.6)};
\addlegendentry{120 Months Maturity Yield}
\addplot[sred] coordinates {(1995.12,3.6)(1995.15,4.1)(1995.25,4.35)(1995.35,4.5)(1995.45,4.55)(1995.55,4.4)(1995.7,4.2)(1995.85,4.1)(1996.0,3.6)(1996.1,3.55)(1996.25,3.35)(1996.4,3.15)(1996.5,3.25)(1996.6,3.15)(1996.7,3.0)(1996.8,2.6)(1996.9,2.4)(1997.05,2.3)(1997.2,2.2)(1997.35,2.0)(1997.5,1.8)(1997.65,1.65)(1997.75,1.3)(1997.85,1.0)(1997.95,0.95)(1998.05,1.3)(1998.15,2.0)(1998.3,2.05)(1998.45,1.85)(1998.6,2.1)(1998.75,2.1)(1998.9,2.05)(1999.1,2.1)(1999.3,2.05)(1999.5,1.95)(1999.7,1.85)(1999.9,1.85)(2000.05,1.7)(2000.2,1.45)(2000.35,1.2)(2000.5,1.1)(2000.65,1.1)(2000.8,1.2)(2001.0,1.35)(2001.2,1.5)(2001.35,1.45)(2001.5,1.3)(2001.65,1.3)(2001.8,1.2)(2001.95,1.05)(2002.1,0.9)(2002.25,0.7)(2002.35,0.5)(2002.45,0.4)(2002.55,0.45)(2002.65,0.8)(2002.75,1.3)(2002.85,1.45)(2003.0,1.5)(2003.15,1.35)(2003.3,1.45)(2003.45,1.55)(2003.6,1.85)(2003.7,1.85)(2003.85,1.7)(2004.05,1.55)(2004.2,1.5)(2004.4,1.35)(2004.55,1.15)(2004.7,1.3)(2004.9,1.5)(2005.05,1.6)(2005.2,1.75)(2005.35,2.0)(2005.45,2.15)(2005.6,2.05)(2005.75,1.85)(2005.9,1.6)(2006.05,1.55)(2006.2,1.5)(2006.4,1.45)(2006.55,1.55)(2006.7,1.4)(2006.85,1.1)(2007.0,1.05)(2007.15,1.0)(2007.3,0.9)(2007.45,1.2)(2007.6,1.1)(2007.8,1.1)(2007.95,1.05)(2008.1,1.0)(2008.25,0.95)(2008.4,1.1)(2008.55,1.2)(2008.7,1.1)(2008.85,1.15)(2009.0,1.1)(2009.2,1.15)(2009.35,1.1)(2009.5,0.9)(2009.65,0.7)(2009.8,0.55)(2009.95,0.7)(2010.1,0.85)(2010.25,1.0)(2010.4,0.95)(2010.6,0.85)(2010.75,0.8)(2010.9,0.7)(2011.05,0.55)(2011.25,0.6)(2011.4,0.55)(2011.55,0.45)(2011.75,0.35)(2011.95,0.3)(2012.1,0.45)(2012.2,0.35)(2012.3,0.3)(2012.45,0.45)(2012.6,0.5)(2012.75,0.45)(2012.9,0.35)(2012.98,0.3)};
\addlegendentry{{\sansf -1.6*}\bsub{5} GDNS-EGARCH}
\end{axis}
\end{tikzpicture}
\end{document}
